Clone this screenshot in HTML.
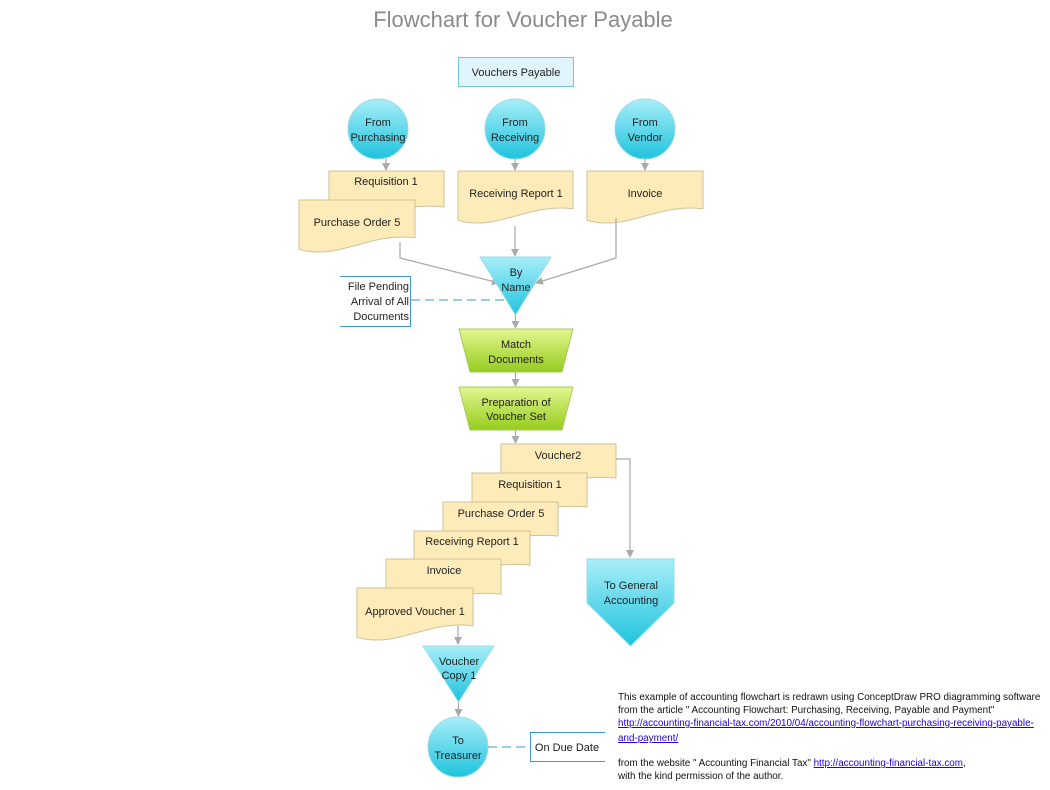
<!DOCTYPE html>
<html><head><meta charset="utf-8"><style>
html,body{margin:0;padding:0;background:#fff;}
svg{display:block;font-family:"Liberation Sans",sans-serif;}
.doc{fill:#fdebb9;stroke:#cfc39a;stroke-width:1;}
.t{font-size:11px;fill:#222;text-anchor:middle;}
.c{stroke:#aaa;stroke-width:1.2;fill:none;}
.foot{font-size:9.85px;fill:#111;}
.lnk{font-size:9.85px;fill:#2200cc;text-decoration:underline;}
</style></head><body>
<svg width="1050" height="790" viewBox="0 0 1050 790" xmlns="http://www.w3.org/2000/svg">
<defs>
<linearGradient id="cy" x1="0" y1="0" x2="0" y2="1"><stop offset="0" stop-color="#a8eef9"/><stop offset="1" stop-color="#1ec3dd"/></linearGradient>
<linearGradient id="gr" x1="0" y1="0" x2="0" y2="1"><stop offset="0" stop-color="#e2f78f"/><stop offset="1" stop-color="#96cc1e"/></linearGradient>
<marker id="ar" markerWidth="8" markerHeight="8" refX="7" refY="4" orient="auto" markerUnits="userSpaceOnUse"><path d="M0,0 L8,4 L0,8 Z" fill="#aaa"/></marker>
</defs>
<text x="523" y="27" font-size="22" fill="#8a8a8a" text-anchor="middle">Flowchart for Voucher Payable</text>
<rect x="458.5" y="57.5" width="115" height="29" fill="#e0f4fb" stroke="#6cc9e0"/>
<text class="t" x="516" y="76">Vouchers Payable</text>

<circle cx="378" cy="129" r="30" fill="url(#cy)" stroke="#9adbe8"/>
<circle cx="515" cy="129" r="30" fill="url(#cy)" stroke="#9adbe8"/>
<circle cx="645" cy="129" r="30" fill="url(#cy)" stroke="#9adbe8"/>
<text class="t" x="378" y="126">From</text><text class="t" x="378" y="141">Purchasing</text>
<text class="t" x="515" y="126">From</text><text class="t" x="515" y="141">Receiving</text>
<text class="t" x="645" y="126">From</text><text class="t" x="645" y="141">Vendor</text>
<path class="c" d="M386,159V170" marker-end="url(#ar)"/>
<path class="c" d="M515,159V170" marker-end="url(#ar)"/>
<path class="c" d="M645,159V170" marker-end="url(#ar)"/>

<path class="doc" d="M329,171H444V207C411,203 380,215 329,209Z"/>
<text class="t" x="386" y="185">Requisition 1</text>
<path class="doc" d="M299,200H415V237.7C368.6,231.9 339.6,260.9 299,249.3Z"/>
<text class="t" x="357" y="226">Purchase Order 5</text>
<path class="doc" d="M458,171H573V208.7C527,202.9 498.25,231.9 458,220.3Z"/>
<text class="t" x="516" y="197">Receiving Report 1</text>
<path class="doc" d="M587,171H703V208.7C656.6,202.9 627.6,231.9 587,220.3Z"/>
<text class="t" x="645" y="197">Invoice</text>

<path class="c" d="M400,242V258L499,283" marker-end="url(#ar)"/>
<path class="c" d="M515,226V256" marker-end="url(#ar)"/>
<path class="c" d="M616,218V258L536,283" marker-end="url(#ar)"/>

<path d="M480,257H551L515.5,315Z" fill="url(#cy)" stroke="#9adbe8"/>
<text class="t" x="516" y="276">By</text><text class="t" x="516" y="291">Name</text>

<path d="M340,276.5H410.5V326.5H340" fill="none" stroke="#3a9ad6"/>
<text class="t" x="409" y="290" style="text-anchor:end">File Pending</text>
<text class="t" x="409" y="305" style="text-anchor:end">Arrival of All</text>
<text class="t" x="409" y="320" style="text-anchor:end">Documents</text>
<path d="M411,300H505" stroke="#3a9ad6" stroke-dasharray="9,5" fill="none"/>

<path class="c" d="M515.5,315V328" marker-end="url(#ar)"/>
<path d="M459,329H573L562,372H470Z" fill="url(#gr)" stroke="#a8c860"/>
<text class="t" x="516" y="348">Match</text><text class="t" x="516" y="363">Documents</text>
<path class="c" d="M515.5,372V386" marker-end="url(#ar)"/>
<path d="M459,387H573L562,430H470Z" fill="url(#gr)" stroke="#a8c860"/>
<text class="t" x="516" y="406">Preparation of</text><text class="t" x="516" y="420">Voucher Set</text>
<path class="c" d="M515.5,430V443" marker-end="url(#ar)"/>

<path class="doc" d="M501,444H616V478C570,474 541.25,490 501,484Z"/>
<text class="t" x="558" y="459">Voucher2</text>
<path class="doc" d="M472,473H587V507C541,503 512.25,519 472,513Z"/>
<text class="t" x="530" y="488">Requisition 1</text>
<path class="doc" d="M443,502H558V536C512,532 483.25,548 443,542Z"/>
<text class="t" x="501" y="517">Purchase Order 5</text>
<path class="doc" d="M414,531H530V565C483.6,561 454.6,577 414,571Z"/>
<text class="t" x="472" y="545">Receiving Report 1</text>
<path class="doc" d="M386,559H501V594C455,590 426.25,606 386,600Z"/>
<text class="t" x="444" y="574">Invoice</text>
<path class="doc" d="M357,588H473V625.7C426.6,619.9 397.6,648.9 357,637.3Z"/>
<text class="t" x="415" y="615">Approved Voucher 1</text>

<path class="c" d="M616,459H630V557" marker-end="url(#ar)"/>
<path d="M587,559H674V603L630.5,646L587,603Z" fill="url(#cy)" stroke="#9adbe8"/>
<text class="t" x="631" y="589">To General</text><text class="t" x="631" y="604">Accounting</text>

<path class="c" d="M458,626V644" marker-end="url(#ar)"/>
<path d="M423,646H494L458.5,702Z" fill="url(#cy)" stroke="#9adbe8"/>
<text class="t" x="459" y="665">Voucher</text><text class="t" x="459" y="679">Copy 1</text>
<path class="c" d="M458.5,702V716" marker-end="url(#ar)"/>
<circle cx="458" cy="747" r="30" fill="url(#cy)" stroke="#9adbe8"/>
<text class="t" x="458" y="744">To</text><text class="t" x="458" y="759">Treasurer</text>
<path d="M488,747H530" stroke="#3a9ad6" stroke-dasharray="9,5" fill="none"/>
<path d="M605,732.5H530.5V761.5H605" fill="none" stroke="#3a9ad6"/>
<text class="t" x="567" y="751">On Due Date</text>

<text class="foot" x="618" y="700">This example of accounting flowchart is redrawn using ConceptDraw PRO diagramming software</text>
<text class="foot" x="618" y="713">from the article " Accounting Flowchart: Purchasing, Receiving, Payable and Payment"</text>
<text class="lnk" x="618" y="726">http://accounting-financial-tax.com/2010/04/accounting-flowchart-purchasing-receiving-payable-</text>
<text class="lnk" x="618" y="741">and-payment/</text>
<text class="foot" x="618" y="766">from the website " Accounting Financial Tax" <tspan class="lnk">http://accounting-financial-tax.com</tspan>,</text>
<text class="foot" x="618" y="779">with the kind permission of the author.</text>
</svg>
</body></html>
